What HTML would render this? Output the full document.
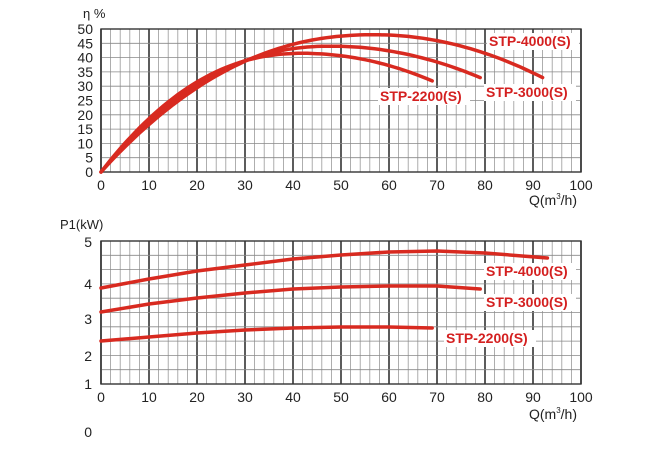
<!DOCTYPE html><html><head><style>body{margin:0;background:#fff}svg{display:block}</style></head><body>
<svg id="s" width="650" height="454" xmlns="http://www.w3.org/2000/svg" font-family="Liberation Sans, sans-serif"></svg>
<script>
const s=document.getElementById('s');let h='';
const X0=101,PX=4.8;
function grid(top,bot){
 for(let i=0;i<=50;i++){const x=X0+i*2*PX;const maj=i%5==0;
  h+=`<line x1="${x}" y1="${top}" x2="${x}" y2="${bot}" stroke="${maj?'#333':'#999'}" stroke-width="${maj?1.6:0.8}"/>`;}
 for(let j=0;j<=10;j++){const y=top+(bot-top)*j/10;
  h+=`<line x1="${X0}" y1="${y}" x2="${X0+480}" y2="${y}" stroke="#888" stroke-width="0.8"/>`;}
 h+=`<rect x="${X0}" y="${top}" width="480" height="${bot-top}" fill="none" stroke="#333" stroke-width="1.4"/>`;
}
grid(29,172);grid(241,384);
function xl(ty,qy){for(let i=0;i<=10;i++){h+=`<text x="${X0+i*48}" y="${ty}" font-size="14" text-anchor="middle" fill="#222">${i*10}</text>`;}
 h+=`<text x="577" y="${qy}" font-size="14" text-anchor="end" fill="#222">Q(m<tspan font-size="8" dy="-6">3</tspan><tspan dy="6">/h)</tspan></text>`;}
xl(190,205);xl(402,419);
for(let v=0;v<=50;v+=5){h+=`<text x="93" y="${172-v*2.86+5}" font-size="14" text-anchor="end" fill="#222">${v}</text>`;}
[[5,242],[4,284],[3,319],[2,356],[1,384],[0,432]].forEach(([v,y])=>h+=`<text x="92" y="${y+5}" font-size="14" text-anchor="end" fill="#222">${v}</text>`);
h+=`<text x="83" y="18" font-size="13" fill="#222">η %</text><text x="60" y="229" font-size="13" fill="#222">P1(kW)</text>`;
function eff(E,Qp,w,end){let p=[];for(let q=0;q<=end;q+=1){let e=q<=Qp?E*(1-Math.pow(1-q/Qp,2.2)):E*(1-Math.pow((q-Qp)/w,2));p.push([X0+q*PX,172-e*2.86]);}return p;}
function path(p,w){return `<path d="M${p.map(a=>a[0].toFixed(1)+','+a[1].toFixed(1)).join('L')}" fill="none" stroke="#d82a20" stroke-width="${w}" stroke-linecap="round"/>`;}
h+=path(eff(48,57,62.6,92),3.5)+path(eff(44,48,62,79),3.5)+path(eff(41.5,42,56,69),3.5);
function pw(pts){return pts.map(([q,y])=>[X0+q*PX,y]);}
h+=path(pw([[0,288],[10,279],[20,271],[30,265],[40,259],[50,255],[60,252],[70,251],[80,253],[93,258]]),3.5);
h+=path(pw([[0,312],[10,304],[20,298],[30,293],[40,289],[50,287],[60,286],[70,286],[79,289]]),3.5);
h+=path(pw([[0,341],[10,337],[20,333],[30,330],[40,328],[50,327],[60,327],[69,328]]),3.5);
function lab(x,y,t){h+=`<rect x="${x-2}" y="${y-13}" width="${t.length*8+4}" height="17" fill="#fff"/><text x="${x}" y="${y}" font-size="14" font-weight="bold" fill="#d42020">${t}</text>`;}
lab(489,46,'STP-4000(S)');lab(486,97,'STP-3000(S)');lab(380,101,'STP-2200(S)');
lab(486,276,'STP-4000(S)');lab(486,307,'STP-3000(S)');lab(446,343,'STP-2200(S)');
s.innerHTML=h;
</script></body></html>
